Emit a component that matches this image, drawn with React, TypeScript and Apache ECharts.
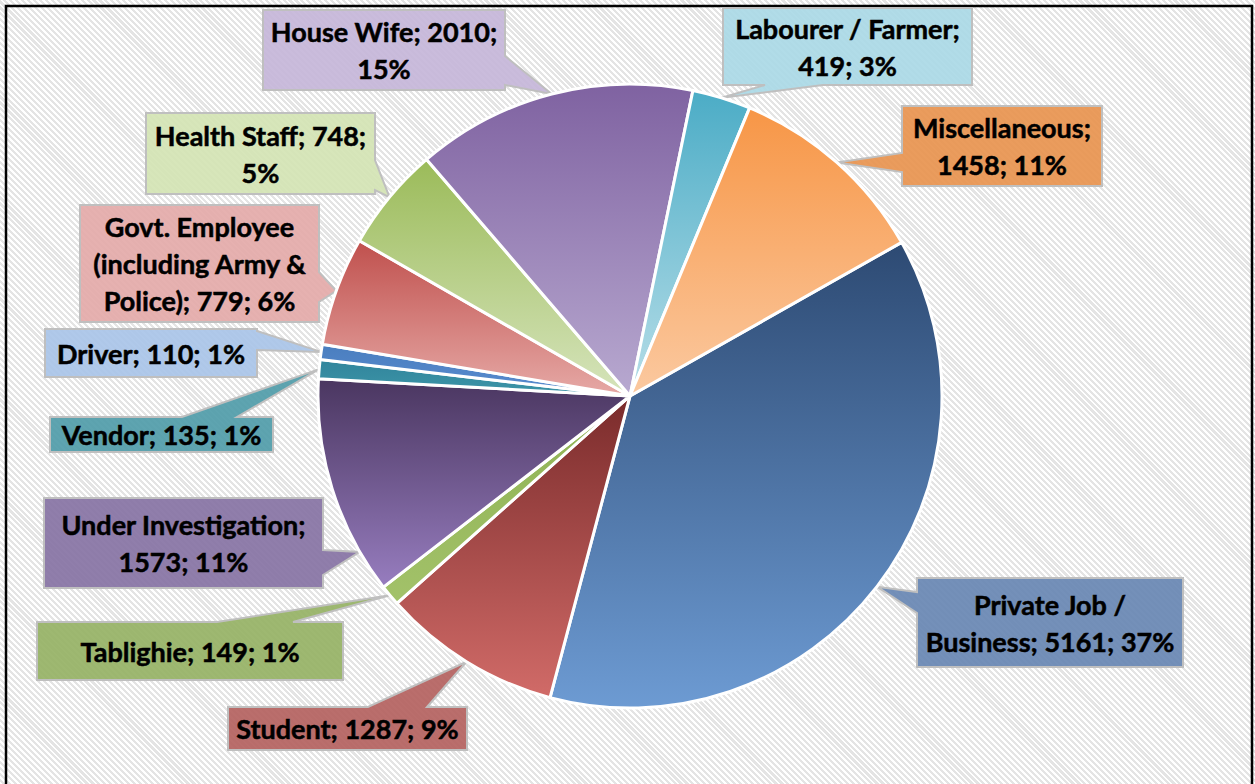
import React, { useEffect, useRef } from "react";
import * as echarts from "echarts";

// ---- data ----
const categories = [
  "Private Job / Business",
  "Student",
  "Tablighie",
  "Under Investigation",
  "Vendor",
  "Driver",
  "Govt. Employee (including Army & Police)",
  "Health Staff",
  "House Wife",
  "Labourer / Farmer",
  "Miscellaneous",
];
const values = [5161, 1287, 149, 1573, 135, 110, 779, 748, 2010, 419, 1458];

// ---- styling / layout ----
const sliceTop = ["#2D4A73", "#7A2B2B", "#8DB152", "#4A3660", "#31859C", "#4A7EBF", "#C0504D", "#9BBB59", "#7F62A1", "#4BACC6", "#F79646"];
const sliceBottom = ["#6D9BD3", "#D16B68", "#A3C26A", "#977DBF", "#3D95A8", "#5A8CD0", "#E6A9A6", "#D6E4BC", "#B8A9D0", "#B7DEE8", "#FBC9A0"];
const boxFill = ["#6584B1", "#B35E5C", "#93B062", "#8470A2", "#4C9AA7", "#A7C3E8", "#E3A9A7", "#D3E3B3", "#C4B5D8", "#A8D8E5", "#E8914B"];
const wrapAfter = [["Job /"], [], [], ["Investigation;"], [], [], ["Employee", "Army &"], ["748;"], ["2010;"], ["Farmer;"], ["Miscellaneous;"]];
// callout boxes [x0, y0, x1, y1], pointer side and base span
const boxes = [
  [917, 578, 1183, 667],
  [228, 707, 467, 750],
  [37, 622, 343, 680],
  [44, 498, 323, 588],
  [50, 417, 273, 452],
  [45, 329, 257, 377],
  [80, 205, 319, 322],
  [146, 113, 375, 194],
  [263, 10, 505, 90],
  [723, 8, 972, 85],
  [902, 106, 1102, 186],
];
const sides = ["left", "top", "top", "right", "top", "right", "right", "right", "right", "bottom", "left"];
const bases = [[592, 613], [368, 427], [217, 293], [550, 575], [182, 237], [331, 350], [272, 302], [160, 190], [56, 85], [765, 823], [153, 172]];
const tipFrac = [0.5, 0.5, 0.5, 0.19, 0.5, 0.5, 0.5, 0.5, 0.5, 0.5, 0.5];

const CX = 630;
const CY = 396;
const R = 312;
const START = 29.5; // echarts startAngle (deg, ccw from 3 o'clock)

function hexA(hex: string, a: number) {
  const n = parseInt(hex.slice(1), 16);
  return `rgba(${(n >> 16) & 255},${(n >> 8) & 255},${n & 255},${a})`;
}

export default function App() {
  const ref = useRef<HTMLDivElement>(null);
  useEffect(() => {
    if (!ref.current) return;
    const chart = echarts.init(ref.current, null, { renderer: "svg" });
    const total = values.reduce((s, v) => s + v, 0);

    // tips computed from the pie geometry
    const tips: number[][] = [];
    let cum = 0;
    values.forEach((v, i) => {
      const theta = ((90 - START) + (360 * (cum + v * tipFrac[i])) / total) * Math.PI / 180;
      tips.push([CX + R * Math.sin(theta), CY - R * Math.cos(theta)]);
      cum += v;
    });

    const callouts = boxes.map((b, i) => {
      const [x0, y0, x1, y1] = b;
      const [a, c] = bases[i];
      const t = tips[i];
      let pts: number[][];
      switch (sides[i]) {
        case "left":
          pts = [[x0, y0], [x1, y0], [x1, y1], [x0, y1], [x0, c], t, [x0, a]];
          break;
        case "right":
          pts = [[x0, y0], [x1, y0], [x1, a], t, [x1, c], [x1, y1], [x0, y1]];
          break;
        case "top":
          pts = [[x0, y0], [a, y0], t, [c, y0], [x1, y0], [x1, y1], [x0, y1]];
          break;
        default:
          pts = [[x0, y0], [x1, y0], [x1, y1], [c, y1], t, [a, y1], [x0, y1]];
      }
      return {
        type: "polygon",
        z: 1,
        shape: { points: pts },
        style: { fill: hexA(boxFill[i], 0.9), stroke: "#BFBFBF", lineWidth: 2 },
      };
    });

    const data = categories.map((name, i) => ({
      name,
      value: values[i],
      itemStyle: {
        color: new echarts.graphic.LinearGradient(0, 0, 0, 1, [
          { offset: 0, color: sliceTop[i] },
          { offset: 1, color: sliceBottom[i] },
        ]),
      },
    }));

    chart.setOption({
      animation: false,
      graphic: [
        {
          type: "rect",
          z: 0,
          shape: { x: 6, y: 6, width: 1246, height: 800 },
          style: { fill: "none", stroke: "#000", lineWidth: 2.5 },
        },
        ...callouts,
      ],
      series: [
        {
          type: "pie",
          z: 2,
          center: [CX, CY],
          radius: R,
          startAngle: START,
          clockwise: true,
          avoidLabelOverlap: false,
          itemStyle: { borderColor: "#ffffff", borderWidth: 3 },
          label: {
            show: true,
            position: "outside",
            color: "#000",
            fontFamily: "Lato",
            fontWeight: "bold",
            fontSize: 27,
            lineHeight: 37,
            align: "center",
            textBorderColor: "#000",
            textBorderWidth: 0.5,
            formatter: (p: any) => {
              const i = p.dataIndex;
              let s = `${categories[i]}; ${values[i]}; ${Math.round((values[i] / total) * 100)}%`;
              wrapAfter[i].forEach((w) => {
                s = s.replace(w + " ", w + "\n");
              });
              return s;
            },
          },
          labelLine: { show: false },
          labelLayout: (p: any) => {
            const b = boxes[p.dataIndex];
            return { x: (b[0] + b[2]) / 2, y: (b[1] + b[3]) / 2, align: "center", verticalAlign: "middle" };
          },
          emphasis: { disabled: true },
          data,
        },
      ],
    });
    return () => chart.dispose();
  }, []);
  return (
    <div
      ref={ref}
      style={{
        position: "fixed",
        left: 0,
        top: 0,
        width: 1255,
        height: 784,
        background:
          "repeating-linear-gradient(45deg, #ffffff 0px, #ffffff 2px, #e4e4e4 2px, #e4e4e4 4.2px)",
      }}
    />
  );
}
